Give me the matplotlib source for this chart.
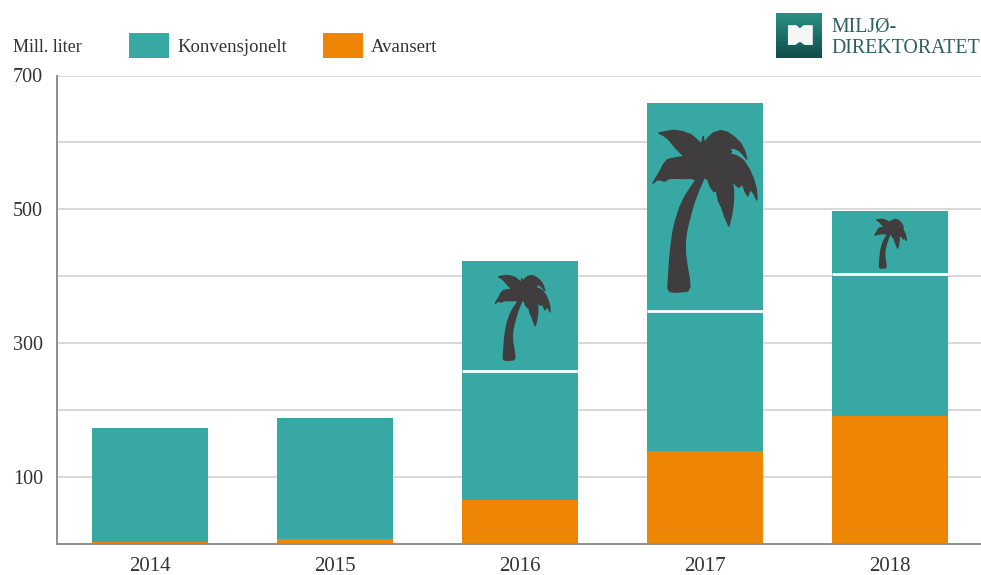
import numpy as np
import matplotlib.pyplot as plt
from matplotlib.patches import Polygon, Rectangle
from matplotlib.colors import LinearSegmentedColormap

plt.rcParams['font.family'] = ['Liberation Serif', 'DejaVu Serif']

W, H = 981, 575

# Mill. liter per year
years = ['2014', '2015', '2016', '2017', '2018']
avansert = [2, 7, 65, 138, 190]
konvensjonelt = [171, 181, 357, 521, 307]
# level above which the volume is palm based (white line), only 2016-2018
palm_years = [2, 3, 4]
palm_level = [258, 348, 403]

yticks_major = [100, 300, 500, 700]
yticks_minor = [200, 400, 600]

TEAL = '#38a8a4'
ORANGE = '#ee8504'
TEXT = '#333333'
PALM = '#3f3d3e'

# palm tree outline, traced on a 390x600 grid with y pointing down
palm_x = [82, 88, 100, 122, 140, 147, 145, 139, 134, 133, 136, 141, 150, 160, 175, 190,
          200, 208, 218, 225, 232, 240, 250, 262, 270, 275, 276, 272,
          285, 292, 302, 310, 318, 325, 335, 345,
          343, 335, 322, 305, 285, 265,
          270, 262, 280, 292, 305, 315,
          308, 296, 278, 258, 238, 216, 200, 190, 186, 181,
          165, 150, 125, 100, 75, 55,
          70, 85, 105, 120, 130,
          100, 80, 68, 60, 48, 38, 50, 60, 72, 85, 100, 125, 150, 165,
          150, 132, 118, 105, 97, 92, 88, 85]
palm_y = [565, 573, 575, 574, 572, 560, 535, 500, 465, 430, 400, 375, 340, 305, 265, 232,
          240, 262, 275, 272, 305, 320, 350, 378, 345, 310, 275, 243,
          258, 262, 252, 275, 288, 268, 280, 300,
          268, 238, 208, 182, 168, 162,
          155, 146, 146, 152, 165, 178,
          152, 130, 112, 98, 93, 100, 115, 130, 110, 133,
          118, 105, 96, 92, 96, 100,
          108, 120, 145, 160, 170,
          175, 180, 195, 212, 232, 250, 240, 240, 244, 236, 235, 236, 235, 240,
          262, 290, 320, 360, 395, 430, 470, 510]

# where each palm sits: centre and width in bar units, span on the value axis
palm_center = [2.015, 3.0, 4.003]
palm_width = [0.295, 0.562, 0.168]
palm_bottom = [274, 376, 412]
palm_top = [401, 618, 485]

fig = plt.figure(figsize=(W / 100, H / 100), dpi=100)
ax = fig.add_axes([57 / W, (H - 543.5) / H, (W - 57) / W, 468 / H])

x = np.arange(len(years))
ax.bar(x, avansert, width=0.632, color=ORANGE, zorder=2)
ax.bar(x, konvensjonelt, width=0.632, bottom=avansert, color=TEAL, zorder=2)

for i, level in zip(palm_years, palm_level):
    ax.hlines(level, i - 0.316, i + 0.316, color='white', lw=2, zorder=3)

px = np.array(palm_x, dtype=float)
py = np.array(palm_y, dtype=float)
px = (px - px.min()) / (px.max() - px.min()) - 0.5
py = (py.max() - py) / (py.max() - py.min())
for c, w, b, t in zip(palm_center, palm_width, palm_bottom, palm_top):
    ax.add_patch(Polygon(np.column_stack([c + px * w, b + py * (t - b)]),
                         closed=True, fc=PALM, ec=PALM, lw=1.0, joinstyle='round', zorder=4))

ax.set_xlim((57 - 150) / 185, (W - 150) / 185)
ax.set_ylim(0, 700)
ax.set_xticks(x)
ax.set_xticklabels(years)
ax.set_yticks(yticks_major)
ax.set_yticks(yticks_minor, minor=True)
ax.grid(True, which='both', axis='y', color='#d2d2d2', lw=1.2, zorder=0)
ax.set_axisbelow(True)
ax.tick_params(axis='both', which='both', length=0)
ax.tick_params(axis='x', labelsize=15, labelcolor=TEXT, pad=9.5)
ax.tick_params(axis='y', labelsize=14.5, labelcolor=TEXT, pad=10)

for side in ['top', 'right']:
    ax.spines[side].set_visible(False)
for side in ['left', 'bottom']:
    ax.spines[side].set_color('#8e8e8e')
    ax.spines[side].set_linewidth(1.4)

# legend row above the plot
fig.text(13 / W, 1 - 47 / H, 'Mill. liter', fontsize=13, color=TEXT, va='center')
fig.patches.append(Rectangle((129 / W, 1 - 58 / H), 40 / W, 25 / H, fc=TEAL,
                             transform=fig.transFigure))
fig.text(177 / W, 1 - 47 / H, 'Konvensjonelt', fontsize=13.5, color=TEXT, va='center')
fig.patches.append(Rectangle((323 / W, 1 - 58 / H), 40 / W, 25 / H, fc=ORANGE,
                             transform=fig.transFigure))
fig.text(371 / W, 1 - 47 / H, 'Avansert', fontsize=13.5, color=TEXT, va='center')

# logo: gradient square with a white book, then the name
logo_cmap = LinearSegmentedColormap.from_list('logo', ['#2b8f85', '#1c6f68', '#134c48'])
logo = fig.add_axes([776 / W, 1 - 58 / H, 46 / W, 45 / H])
logo.imshow(np.linspace(0, 1, 64).reshape(-1, 1), cmap=logo_cmap, aspect='auto',
            extent=[0, 1, 0, 1])
logo.add_patch(Polygon([(0.26, 0.73), (0.44, 0.73), (0.52, 0.66), (0.6, 0.73), (0.8, 0.73),
                        (0.8, 0.29), (0.62, 0.29), (0.52, 0.36), (0.42, 0.29), (0.26, 0.29)],
                       closed=True, fc='#f4f7f6', ec='none'))
logo.axis('off')
fig.text(831 / W, 1 - 27.5 / H, 'MILJØ-', fontsize=14.3, color='#2f5f5c', va='center')
fig.text(831 / W, 1 - 48.5 / H, 'DIREKTORATET', fontsize=14.3, color='#2f5f5c', va='center')

fig.savefig('out.png', dpi=100)
